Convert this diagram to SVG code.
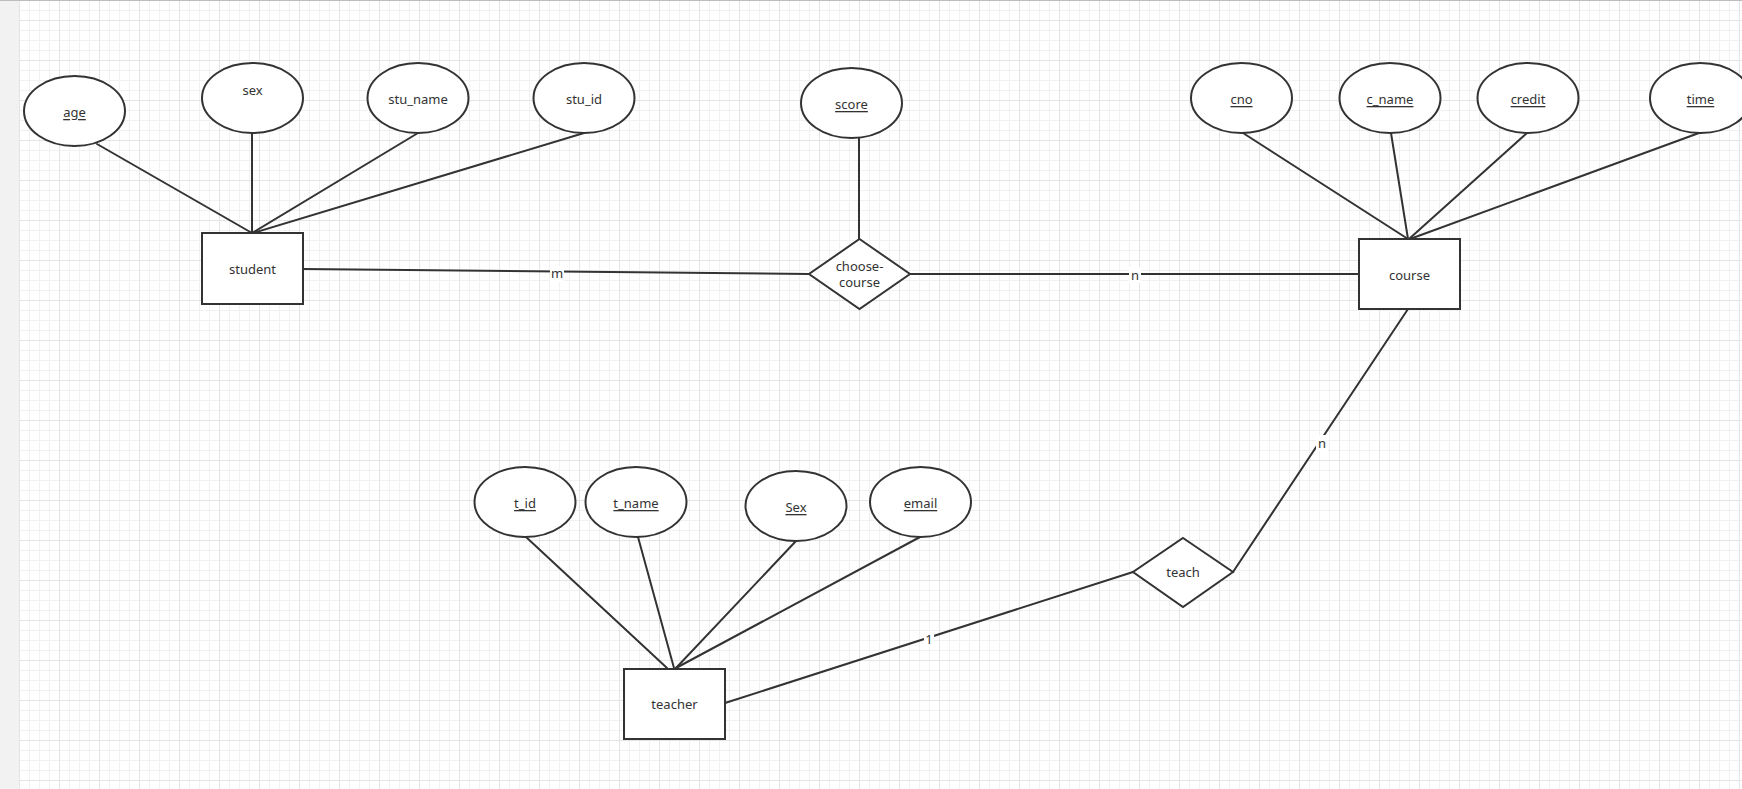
<svg xmlns="http://www.w3.org/2000/svg" width="1742" height="789" viewBox="0 0 1742 789">
  <defs>
    <pattern id="grid" x="19" y="20" width="40" height="40" patternUnits="userSpaceOnUse">
      <rect x="10" y="0" width="1" height="40" fill="#f1f1f1"/>
      <rect x="20" y="0" width="1" height="40" fill="#f1f1f1"/>
      <rect x="30" y="0" width="1" height="40" fill="#f1f1f1"/>
      <rect x="0" y="10" width="40" height="1" fill="#f1f1f1"/>
      <rect x="0" y="20" width="40" height="1" fill="#f1f1f1"/>
      <rect x="0" y="30" width="40" height="1" fill="#f1f1f1"/>
      <rect x="0" y="0" width="1" height="40" fill="#e4e4e4"/>
      <rect x="0" y="0" width="40" height="1" fill="#e4e4e4"/>
    </pattern>
  </defs>
  <style>
    .shape { fill: #ffffff; stroke: #333333; stroke-width: 2; }
    .conn { stroke: #333333; stroke-width: 2; fill: none; stroke-linecap: round; }
    .t { font-family: "Noto Sans", "Liberation Sans", sans-serif; font-size: 13px; fill: #333333; text-anchor: middle; dominant-baseline: central; }
    .u { text-decoration: underline; }
    .lblbg { fill: #ffffff; }
  </style>

  <rect x="0" y="0" width="1742" height="789" fill="#ffffff"/>
  <rect x="19" y="0" width="1723" height="789" fill="url(#grid)"/>
  <rect x="0" y="0" width="19" height="789" fill="#f2f2f2"/>
  <rect x="0" y="0" width="1742" height="1" fill="#bdbdbd"/>

  <g id="connectors">
    <line class="conn" x1="97" y1="144" x2="252" y2="233"/>
    <line class="conn" x1="252" y1="133" x2="252" y2="233"/>
    <line class="conn" x1="418" y1="133" x2="252" y2="233"/>
    <line class="conn" x1="584" y1="133" x2="253" y2="233"/>
    <line class="conn" x1="303" y1="269" x2="809" y2="274"/>
    <line class="conn" x1="859" y1="138" x2="859" y2="239"/>
    <line class="conn" x1="910" y1="274" x2="1359" y2="274"/>
    <line class="conn" x1="1243" y1="133" x2="1408" y2="239"/>
    <line class="conn" x1="1391" y1="133" x2="1408" y2="239"/>
    <line class="conn" x1="1527" y1="133" x2="1409" y2="239"/>
    <line class="conn" x1="1699" y1="133" x2="1410" y2="239"/>
    <line class="conn" x1="1408" y1="309" x2="1233" y2="572"/>
    <line class="conn" x1="725" y1="703" x2="1133" y2="572"/>
    <line class="conn" x1="526" y1="537" x2="667" y2="668"/>
    <line class="conn" x1="638" y1="537" x2="674" y2="668"/>
    <line class="conn" x1="796" y1="541" x2="676" y2="668"/>
    <line class="conn" x1="920" y1="537" x2="676" y2="668"/>
    <rect class="lblbg" x="550" y="266" width="14" height="16"/>
    <text class="t" x="557" y="273">m</text>
    <rect class="lblbg" x="1129" y="267" width="12" height="16"/>
    <text class="t" x="1135" y="275">n</text>
    <rect class="lblbg" x="1316" y="435" width="12" height="16"/>
    <text class="t" x="1322" y="443">n</text>
    <rect class="lblbg" x="924" y="631" width="10" height="16"/>
    <text class="t" x="929" y="639">1</text>
  </g>

  <g id="age"><ellipse class="shape" cx="74.5" cy="111" rx="50.5" ry="35"/><text class="t u" x="74.5" y="112">age</text></g>
  <g id="sex"><ellipse class="shape" cx="252.5" cy="98" rx="50.5" ry="35"/><text class="t" x="252.5" y="90">sex</text></g>
  <g id="stu_name"><ellipse class="shape" cx="418" cy="98" rx="50.5" ry="35"/><text class="t" x="418" y="99">stu_name</text></g>
  <g id="stu_id"><ellipse class="shape" cx="584" cy="98" rx="50.5" ry="35"/><text class="t" x="584" y="99">stu_id</text></g>
  <g id="student"><rect class="shape" x="202" y="233" width="101" height="71"/><text class="t" x="252.5" y="269">student</text></g>

  <g id="score"><ellipse class="shape" cx="851.5" cy="103" rx="50.5" ry="35"/><text class="t u" x="851.5" y="104">score</text></g>
  <g id="choose-course"><polygon class="shape" points="859.5,239 910,274 859.5,309 809,274"/><text class="t" x="859.5" y="266">choose-</text><text class="t" x="859.5" y="282">course</text></g>

  <g id="cno"><ellipse class="shape" cx="1241.5" cy="98" rx="50.5" ry="35"/><text class="t u" x="1241.5" y="99">cno</text></g>
  <g id="c_name"><ellipse class="shape" cx="1390" cy="98" rx="50.5" ry="35"/><text class="t u" x="1390" y="99">c_name</text></g>
  <g id="credit"><ellipse class="shape" cx="1528" cy="98" rx="50.5" ry="35"/><text class="t u" x="1528" y="99">credit</text></g>
  <g id="time"><ellipse class="shape" cx="1700.5" cy="98" rx="50.5" ry="35"/><text class="t u" x="1700.5" y="99">time</text></g>
  <g id="course"><rect class="shape" x="1359" y="239" width="101" height="70"/><text class="t" x="1409.5" y="275">course</text></g>

  <g id="teach"><polygon class="shape" points="1183,538 1233,572 1183,607 1133,572"/><text class="t" x="1183" y="572">teach</text></g>

  <g id="t_id"><ellipse class="shape" cx="525" cy="502" rx="50.5" ry="35"/><text class="t u" x="525" y="503">t_id</text></g>
  <g id="t_name"><ellipse class="shape" cx="636" cy="502" rx="50.5" ry="35"/><text class="t u" x="636" y="503">t_name</text></g>
  <g id="Sex"><ellipse class="shape" cx="796" cy="506" rx="50.5" ry="35"/><text class="t u" x="796" y="507">Sex</text></g>
  <g id="email"><ellipse class="shape" cx="920.5" cy="502" rx="50.5" ry="35"/><text class="t u" x="920.5" y="503">email</text></g>
  <g id="teacher"><rect class="shape" x="624" y="669" width="101" height="70"/><text class="t" x="674.5" y="704">teacher</text></g>
</svg>
